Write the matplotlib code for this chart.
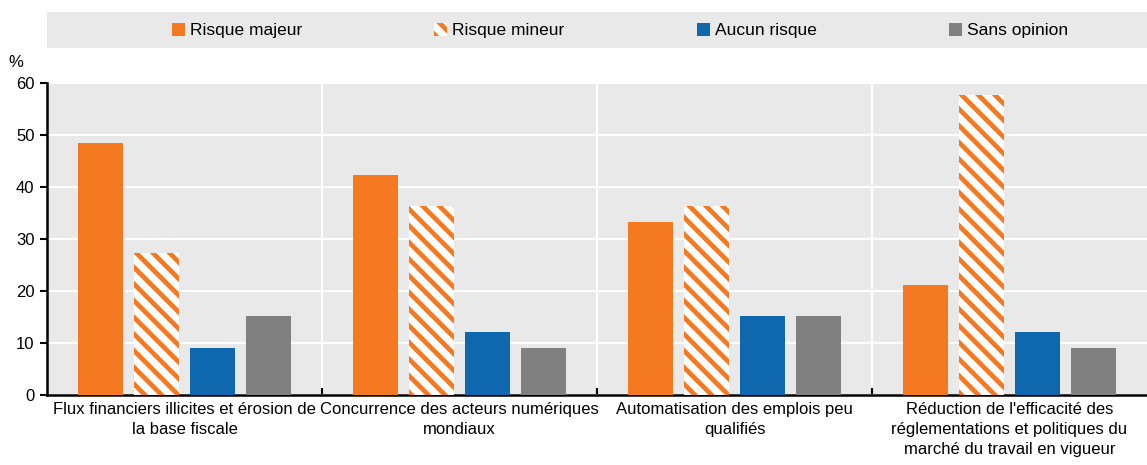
import matplotlib
matplotlib.use("Agg")
import matplotlib.pyplot as plt
import matplotlib.patches as mpatches
import numpy as np

categories = [
    "Flux financiers illicites et érosion de\nla base fiscale",
    "Concurrence des acteurs numériques\nmondiaux",
    "Automatisation des emplois peu\nqualifiés",
    "Réduction de l'efficacité des\nréglementations et politiques du\nmarché du travail en vigueur",
]
series_names = ["Risque majeur", "Risque mineur", "Aucun risque", "Sans opinion"]
risque_majeur = [48.5, 42.4, 33.3, 21.2]
risque_mineur = [27.3, 36.4, 36.4, 57.6]
aucun_risque = [9.1, 12.1, 15.2, 12.1]
sans_opinion = [15.2, 9.1, 15.2, 9.1]
yticks = [0, 10, 20, 30, 40, 50, 60]

ORANGE = "#F47920"
BLUE = "#0F67AE"
GREY = "#808080"
BG = "#E9E9E9"

plt.rcParams["font.family"] = ["Liberation Sans Narrow", "Liberation Sans", "DejaVu Sans"]
plt.rcParams["hatch.linewidth"] = 3.4

fig = plt.figure(figsize=(11.47, 4.65), dpi=100)
ax = fig.add_axes([0.041, 0.1505, 0.959, 0.671])
ax.set_facecolor(BG)

x = np.arange(len(categories))
width = 0.163
step = 0.204
offs = [-1.5 * step, -0.5 * step, 0.5 * step, 1.5 * step]

b1 = ax.bar(x + offs[0], risque_majeur, width, color=ORANGE, zorder=3)
b2 = ax.bar(x + offs[1], risque_mineur, width, facecolor="white", edgecolor=ORANGE,
            hatch="\\\\", linewidth=0, zorder=3)
b3 = ax.bar(x + offs[2], aucun_risque, width, color=BLUE, zorder=3)
b4 = ax.bar(x + offs[3], sans_opinion, width, color=GREY, zorder=3)

ax.set_xlim(-0.5, len(categories) - 0.5)
ax.set_ylim(0, 60)
ax.set_yticks(yticks)
ax.tick_params(axis="y", labelsize=12, length=5, width=1.5, direction="out", pad=4)

# category labels centred under groups, group separators as ticks
ax.set_xticks(x)
ax.set_xticklabels(categories, fontsize=12, linespacing=1.4)
ax.tick_params(axis="x", length=0, pad=5)
ax.set_xticks(np.arange(0.5, len(categories) - 0.5), minor=True)
ax.tick_params(axis="x", which="minor", direction="in", length=5, width=1.5)

ax.grid(axis="y", color="white", linewidth=1.5, zorder=0)
for s in np.arange(0.5, len(categories) - 0.5):
    ax.axvline(s, color="white", linewidth=1.5, zorder=1)

for side in ["top", "right"]:
    ax.spines[side].set_visible(False)
ax.spines["left"].set_linewidth(1.8)
ax.spines["bottom"].set_linewidth(1.8)

fig.text(0.007, 0.865, "%", fontsize=12, va="center", ha="left")

# legend band
band = mpatches.Rectangle((0.041, 0.897), 0.959, 0.077, transform=fig.transFigure,
                          facecolor=BG, edgecolor="none", zorder=0)
fig.patches.append(band)
leg = fig.legend([b1, b2, b3, b4], series_names, loc="center", ncol=4,
                 bbox_to_anchor=(0.5405, 0.934), frameon=False, fontsize=12.5,
                 handlelength=0.75, handleheight=0.75, handletextpad=0.3,
                 columnspacing=7.6)

fig.savefig("out.png", dpi=100)
